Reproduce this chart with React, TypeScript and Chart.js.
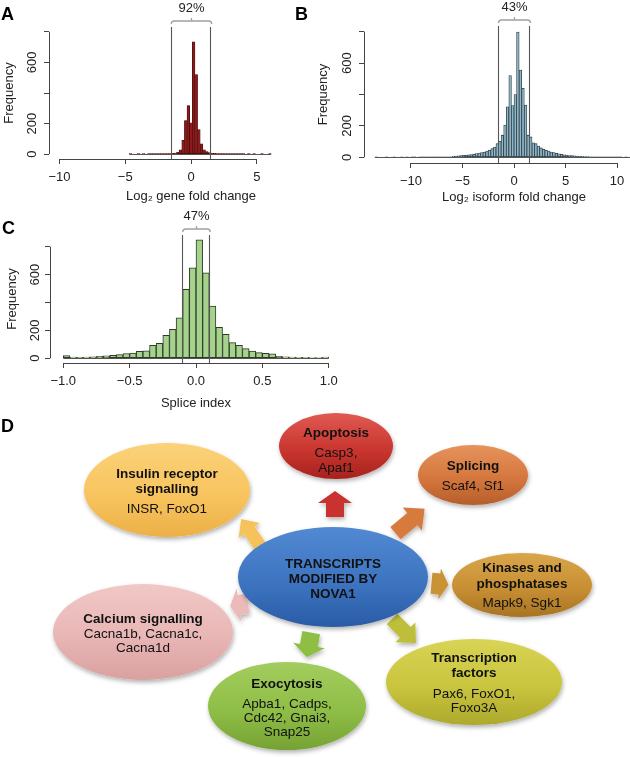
import React, { useEffect, useRef } from "react";
import { Chart, registerables } from "chart.js";

Chart.register(...registerables);

const FONT = '"Liberation Sans", Arial, Helvetica, sans-serif';
Chart.defaults.font.family = FONT;

// ---------------- Panel A: Log2 gene fold change ----------------
const geneBinStart = -4.7;
const geneBinWidth = 0.2;
const geneCounts = [
  1, 0, 0, 1, 0, 1, 0, 1, 1, 1,
  1, 2, 2, 2, 3, 4, 5, 7, 12, 28,
  90, 220, 318, 205, 735, 520, 160, 68, 28, 16,
  10, 7, 5, 4, 3, 3, 2, 2, 2, 1,
  1, 1, 1, 1, 0, 1, 0, 1, 0, 0,
  1, 0, 0, 1,
];
const geneXTicks = [-10, -5, 0, 5];
const geneThresholds = [-1.5, 1.5];
const genePct = "92%";

// ---------------- Panel B: Log2 isoform fold change ----------------
const isoBinStart = -13.5;
const isoBinWidth = 0.25;
const isoCounts = [
  1, 0, 0, 0, 1, 0, 0, 1, 0, 0, 1, 0, 1, 0, 1, 1, 0, 1, 1, 1, 1, 2,
  2, 2, 2, 3, 3, 3, 4, 4,
  6, 8, 9, 11, 13, 15, 16, 18,
  20, 24, 27, 30, 34, 40, 46, 55, 66, 87,
  102, 141, 205, 322, 520, 330, 400, 797, 556, 439, 333, 141,
  130, 92, 87, 72, 60, 52,
  45, 40, 34, 30, 26, 22, 19, 16, 14, 12, 11, 9, 8, 7, 6, 5, 5, 4, 4, 3,
  3, 3, 2, 2, 2, 1, 2, 1, 1, 1, 0, 1, 0, 1,
];
const isoXTicks = [-10, -5, 0, 5, 10];
const isoThresholds = [-1.5, 1.5];
const isoPct = "43%";

// ---------------- Panel C: Splice index ----------------
const spliceBinStart = -1.0;
const spliceBinWidth = 0.05;
const spliceCounts = [
  20, 8, 7, 8, 11, 13, 17, 21, 26, 34, 38, 50, 54, 93, 107, 164, 207, 290, 495, 648,
  850, 612, 374, 222, 171, 112, 93, 69, 52, 40, 36, 31, 14, 10, 8, 6, 6, 5, 5, 8,
];
const spliceXTicks = [-1, -0.5, 0, 0.5, 1];
const spliceThresholds = [-0.1, 0.1];
const splicePct = "47%";

// Frequency axis (shared)
const freqTicks = [0, 200, 400, 600, 800];
const freqLabels = ["0", "200", "", "600", ""];

const AXIS = "#444";
const TEXT = "#222";

type HistSpec = {
  left: number; top: number; width: number; height: number;
  padTop: number; padRight: number; yWidth: number; xHeight: number;
  xMin: number; xMax: number; yMin: number; yMax: number;
  binStart: number; binWidth: number; counts: number[];
  xTicks: number[]; xDecimals: number;
  thresholds: number[]; pct: string;
  fill: string; border: string; borderWidth: number;
  xTitle: string; xTitlePad: number; yTitlePad: number; yLabelOffset: number;
};

const specA: HistSpec = {
  left: 0, top: 0, width: 340, height: 205,
  padTop: 27, padRight: 7, yWidth: 49, xHeight: 46,
  xMin: -10.8, xMax: 10.8, yMin: -32, yMax: 832,
  binStart: geneBinStart, binWidth: geneBinWidth, counts: geneCounts,
  xTicks: geneXTicks, xDecimals: 0, thresholds: geneThresholds, pct: genePct,
  fill: "#8E1B1B", border: "#3A0A0A", borderWidth: 0.6,
  xTitle: "Log\u2082 gene fold change", xTitlePad: 1.2, yTitlePad: 1.2, yLabelOffset: 17,
};

const specB: HistSpec = {
  left: 305, top: 0, width: 365, height: 205,
  padTop: 26, padRight: 6, yWidth: 59, xHeight: 42,
  xMin: -14.56, xMax: 14.56, yMin: -36, yMax: 836,
  binStart: isoBinStart, binWidth: isoBinWidth, counts: isoCounts,
  xTicks: isoXTicks, xDecimals: 0, thresholds: isoThresholds, pct: isoPct,
  fill: "#8DB7CA", border: "#2F3B40", borderWidth: 0.8,
  xTitle: "Log\u2082 isoform fold change", xTitlePad: 0.2, yTitlePad: 10.2, yLabelOffset: 17,
};

const specC: HistSpec = {
  left: 0, top: 205, width: 350, height: 210,
  padTop: 30, padRight: 8, yWidth: 50, xHeight: 52,
  xMin: -1.1, xMax: 1.1, yMin: -34, yMax: 884,
  binStart: spliceBinStart, binWidth: spliceBinWidth, counts: spliceCounts,
  xTicks: spliceXTicks, xDecimals: 1, thresholds: spliceThresholds, pct: splicePct,
  fill: "#A6D38C", border: "#2E3A2A", borderWidth: 1,
  xTitle: "Splice index", xTitlePad: 4.2, yTitlePad: 4.2, yLabelOffset: 15,
};

function fmtTick(v: number, d: number) {
  const s = Math.abs(v).toFixed(d);
  return v < 0 ? "\u2212" + s : s;
}

const align = (p: number) => Math.round(p - 0.5) + 0.5;

function Histogram({ spec }: { spec: HistSpec }) {
  const ref = useRef<HTMLCanvasElement>(null);
  useEffect(() => {
    const s = spec;
    const points = s.counts.map((c, i) => ({ x: s.binStart + (i + 0.5) * s.binWidth, y: c }));
    const overlay = {
      id: "histOverlay",
      afterDatasetsDraw(chart: any) {
        const { ctx, chartArea: a, scales } = chart;
        const xs = scales.x;
        const ys = scales.y;
        ctx.save();
        // baseline of the histogram (empty bins)
        ctx.save();
        ctx.beginPath();
        ctx.rect(a.left, a.top, a.right - a.left, a.bottom - a.top);
        ctx.clip();
        const y0 = align(ys.getPixelForValue(0));
        ctx.strokeStyle = "#555";
        ctx.lineWidth = 1;
        ctx.beginPath();
        ctx.moveTo(xs.getPixelForValue(s.binStart), y0);
        ctx.lineTo(xs.getPixelForValue(s.binStart + s.counts.length * s.binWidth), y0);
        ctx.stroke();
        ctx.restore();

        // axis lines (R style: only between first and last tick)
        ctx.strokeStyle = AXIS;
        ctx.lineWidth = 1;
        const xb = align(a.bottom);
        ctx.beginPath();
        ctx.moveTo(xs.getPixelForValue(s.xTicks[0]), xb);
        ctx.lineTo(xs.getPixelForValue(s.xTicks[s.xTicks.length - 1]), xb);
        ctx.stroke();
        const yl = align(a.left);
        ctx.beginPath();
        ctx.moveTo(yl, ys.getPixelForValue(freqTicks[0]));
        ctx.lineTo(yl, ys.getPixelForValue(freqTicks[freqTicks.length - 1]));
        ctx.stroke();

        // rotated y tick labels
        ctx.font = `13px ${FONT}`;
        ctx.fillStyle = TEXT;
        ctx.textAlign = "center";
        ctx.textBaseline = "middle";
        freqTicks.forEach((v, i) => {
          const lab = freqLabels[i];
          if (!lab) return;
          const py = ys.getPixelForValue(v);
          ctx.save();
          ctx.translate(a.left - s.yLabelOffset, py);
          ctx.rotate(-Math.PI / 2);
          ctx.fillText(lab, 0, 0);
          ctx.restore();
        });

        // threshold lines
        ctx.strokeStyle = "#555";
        ctx.lineWidth = 1.1;
        s.thresholds.forEach((t) => {
          const px = align(xs.getPixelForValue(t));
          ctx.beginPath();
          ctx.moveTo(px, a.top);
          ctx.lineTo(px, a.bottom);
          ctx.stroke();
        });

        // bracket + percentage
        const x1 = xs.getPixelForValue(s.thresholds[0]);
        const x2 = xs.getPixelForValue(s.thresholds[1]) + 1;
        const xc = (x1 + x2) / 2;
        const yb = a.top - 6;
        ctx.strokeStyle = "#a0a0a0";
        ctx.lineWidth = 1.3;
        ctx.beginPath();
        ctx.moveTo(x1, yb + 3);
        ctx.quadraticCurveTo(x1, yb, x1 + 3, yb);
        ctx.lineTo(x2 - 3, yb);
        ctx.quadraticCurveTo(x2, yb, x2, yb + 3);
        ctx.moveTo(xc, yb);
        ctx.lineTo(xc, yb - 3);
        ctx.stroke();
        ctx.fillStyle = TEXT;
        ctx.font = `13px ${FONT}`;
        ctx.fillText(s.pct, xc, a.top - 19);
        ctx.restore();
      },
    };

    const chart = new Chart(ref.current as HTMLCanvasElement, {
      type: "bar",
      data: {
        datasets: [
          {
            data: points as any,
            backgroundColor: s.fill,
            borderColor: s.border,
            borderWidth: s.borderWidth,
            borderSkipped: false,
            barPercentage: 1,
            categoryPercentage: 1,
          },
        ],
      },
      options: {
        animation: false,
        responsive: false,
        devicePixelRatio: 1,
        layout: { padding: { top: s.padTop, right: s.padRight, bottom: 0, left: 0 } },
        plugins: { legend: { display: false }, tooltip: { enabled: false } },
        scales: {
          x: {
            type: "linear",
            min: s.xMin,
            max: s.xMax,
            offset: false,
            afterFit: (sc: any) => { sc.height = s.xHeight; },
            afterBuildTicks: (sc: any) => { sc.ticks = s.xTicks.map((v) => ({ value: v })); },
            ticks: {
              autoSkip: false,
              maxRotation: 0,
              minRotation: 0,
              padding: 6,
              color: TEXT,
              font: { size: 13, family: FONT },
              callback: (v: any) => fmtTick(Number(v), s.xDecimals),
            },
            grid: { display: true, offset: false, drawOnChartArea: false, drawTicks: true, tickLength: 5, color: AXIS, tickColor: AXIS },
            border: { display: false },
            title: {
              display: true,
              text: s.xTitle,
              color: TEXT,
              font: { size: 13, family: FONT },
              padding: { top: 0, bottom: s.xTitlePad },
            },
          },
          y: {
            type: "linear",
            min: s.yMin,
            max: s.yMax,
            afterFit: (sc: any) => { sc.width = s.yWidth; },
            afterBuildTicks: (sc: any) => { sc.ticks = freqTicks.map((v) => ({ value: v })); },
            ticks: { display: false },
            grid: { display: true, drawOnChartArea: false, drawTicks: true, tickLength: 5, color: AXIS, tickColor: AXIS },
            border: { display: false },
            title: {
              display: true,
              text: "Frequency",
              color: TEXT,
              font: { size: 13, family: FONT },
              padding: { top: s.yTitlePad, bottom: 0 },
            },
          },
        },
      } as any,
      plugins: [overlay],
    });
    return () => chart.destroy();
  }, [spec]);
  return (
    <canvas
      ref={ref}
      width={spec.width}
      height={spec.height}
      style={{ position: "absolute", left: spec.left, top: spec.top, width: spec.width, height: spec.height }}
    />
  );
}

// ---------------- Panel D: diagram ----------------
type Node = {
  cx: number; cy: number; rx: number; ry: number;
  light: string; color: string; dark: string;
  lines: [string, boolean, number][];
};

const nodes: Node[] = [
  { cx: 336, cy: 446, rx: 57, ry: 33, light: "#E05A52", color: "#CA3630", dark: "#A6221D",
    lines: [["Apoptosis", true, 432], ["Casp3,", false, 452], ["Apaf1", false, 467]] },
  { cx: 473, cy: 475, rx: 55, ry: 30, light: "#E6935C", color: "#D5773E", dark: "#B65E2A",
    lines: [["Splicing", true, 465], ["Scaf4, Sf1", false, 485]] },
  { cx: 167, cy: 490, rx: 83, ry: 47, light: "#FBD27A", color: "#F8C45E", dark: "#ECB048",
    lines: [["Insulin receptor", true, 473], ["signalling", true, 488], ["INSR, FoxO1", false, 508]] },
  { cx: 333, cy: 577, rx: 95, ry: 50, light: "#5289D2", color: "#3D74C1", dark: "#2A5CA5",
    lines: [["TRANSCRIPTS", true, 563], ["MODIFIED BY", true, 578], ["NOVA1", true, 593]] },
  { cx: 522, cy: 585, rx: 70, ry: 32, light: "#D9A64B", color: "#C88F33", dark: "#A87424",
    lines: [["Kinases and", true, 567], ["phosphatases", true, 583], ["Mapk9, Sgk1", false, 602]] },
  { cx: 143, cy: 632, rx: 90, ry: 48, light: "#F1C8C7", color: "#E8B6B5", dark: "#D9A1A0",
    lines: [["Calcium signalling", true, 618], ["Cacna1b, Cacna1c,", false, 633], ["Cacna1d", false, 647]] },
  { cx: 474, cy: 682, rx: 88, ry: 43, light: "#D8D455", color: "#C9C53E", dark: "#ADA92C",
    lines: [["Transcription", true, 657], ["factors", true, 672], ["Pax6, FoxO1,", false, 693], ["Foxo3A", false, 707]] },
  { cx: 287, cy: 706, rx: 79, ry: 44, light: "#A3CD5E", color: "#8FBE47", dark: "#76A233",
    lines: [["Exocytosis", true, 683], ["Apba1, Cadps,", false, 703], ["Cdc42, Gnai3,", false, 717], ["Snap25", false, 731]] },
];

type Arrow = { cx: number; cy: number; ang: number; L: number; hl: number; hw: number; sw: number; color: string };

const arrows: Arrow[] = [
  { cx: 335, cy: 504, ang: -90, L: 26, hl: 12, hw: 34, sw: 18, color: "#C9332E" },
  { cx: 410, cy: 521, ang: -40, L: 38, hl: 16, hw: 30, sw: 16, color: "#D67A3E" },
  { cx: 251, cy: 533, ang: -125, L: 34, hl: 14, hw: 26, sw: 13, color: "#F6C25A" },
  { cx: 440, cy: 584, ang: 5, L: 17, hl: 9, hw: 31, sw: 21, color: "#C99235" },
  { cx: 404, cy: 631, ang: 45, L: 34, hl: 15, hw: 28, sw: 15, color: "#BFBE3A" },
  { cx: 309, cy: 645, ang: 100, L: 25, hl: 12, hw: 32, sw: 18, color: "#8FBE45" },
  { cx: 239, cy: 605, ang: 172, L: 18, hl: 9, hw: 34, sw: 20, color: "#EBBAB9" },
];

function arrowPoints(a: Arrow) {
  const r = (a.ang * Math.PI) / 180;
  const c = Math.cos(r);
  const s = Math.sin(r);
  const h = a.L / 2;
  const local = [
    [h, 0], [h - a.hl, -a.hw / 2], [h - a.hl, -a.sw / 2], [-h, -a.sw / 2],
    [-h, a.sw / 2], [h - a.hl, a.sw / 2], [h - a.hl, a.hw / 2],
  ];
  return local
    .map(([x, y]) => `${(a.cx + x * c - y * s).toFixed(1)},${(a.cy + x * s + y * c).toFixed(1)}`)
    .join(" ");
}

function Overlay() {
  return (
    <svg width={630} height={757} style={{ position: "absolute", left: 0, top: 0 }}>
      <defs>
        <filter id="sh" x="-20%" y="-20%" width="140%" height="150%">
          <feDropShadow dx="1" dy="2.5" stdDeviation="2" floodColor="#000" floodOpacity="0.3" />
        </filter>
        {nodes.map((n, i) => (
          <linearGradient key={i} id={`ng${i}`} x1="0" y1="0" x2="0" y2="1">
            <stop offset="0%" stopColor={n.light} />
            <stop offset="55%" stopColor={n.color} />
            <stop offset="100%" stopColor={n.dark} />
          </linearGradient>
        ))}
      </defs>
      {/* panel letters */}
      <g fontFamily={FONT} fontWeight={700} fontSize={18} fill="#000">
        <text x={1} y={20}>A</text>
        <text x={295} y={20}>B</text>
        <text x={2} y={234}>C</text>
        <text x={1} y={432}>D</text>
      </g>
      {arrows.map((a, i) => (
        <polygon key={i} points={arrowPoints(a)} fill={a.color} filter="url(#sh)" />
      ))}
      {nodes.map((n, i) => (
        <g key={i}>
          <ellipse cx={n.cx} cy={n.cy} rx={n.rx} ry={n.ry} fill={`url(#ng${i})`} filter="url(#sh)" />
          {n.lines.map(([t, b, y], j) => (
            <text
              key={j}
              x={n.cx}
              y={y + 5}
              textAnchor="middle"
              fontFamily={FONT}
              fontSize={13.5}
              fontWeight={b ? 700 : 400}
              fill="#111"
            >
              {t}
            </text>
          ))}
        </g>
      ))}
    </svg>
  );
}

export default function App() {
  return (
    <div
      style={{
        position: "absolute",
        left: 0,
        top: 0,
        width: 630,
        height: 757,
        overflow: "hidden",
        background: "#fff",
      }}
    >
      <Histogram spec={specA} />
      <Histogram spec={specB} />
      <Histogram spec={specC} />
      <Overlay />
    </div>
  );
}
